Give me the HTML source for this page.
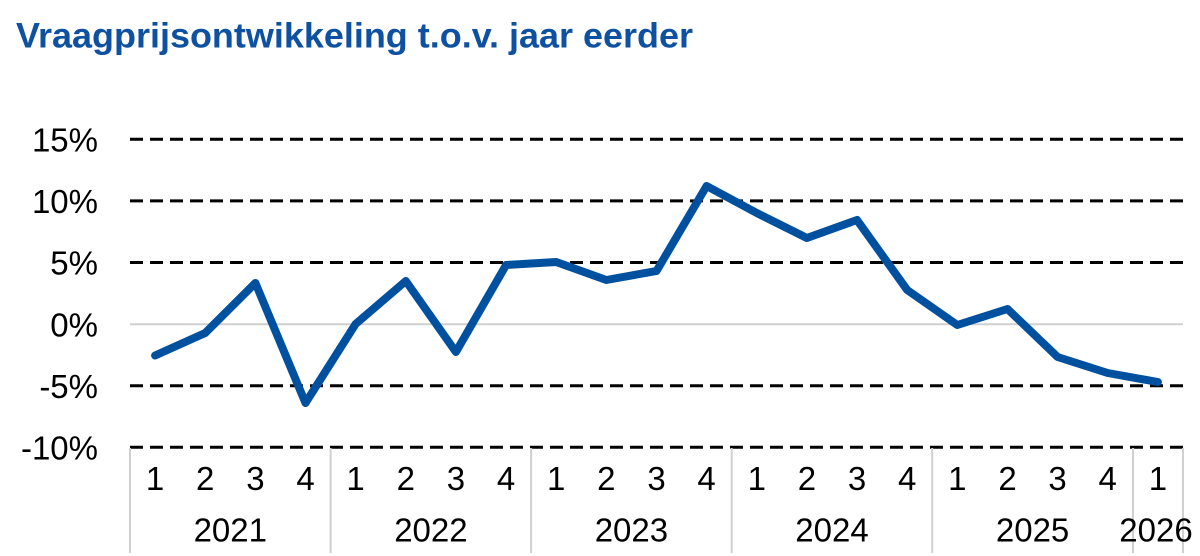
<!DOCTYPE html>
<html>
<head>
<meta charset="utf-8">
<style>
  html, body { margin:0; padding:0; background:#ffffff; }
  body { width:1200px; height:556px; overflow:hidden; }
  svg { display:block; }
  text { font-family: "Liberation Sans", Arial, sans-serif; }
</style>
</head>
<body>
<svg width="1200" height="556" viewBox="0 0 1200 556" xmlns="http://www.w3.org/2000/svg">
  <rect x="0" y="0" width="1200" height="556" fill="#ffffff"/>

  <!-- Title -->
  <text x="16" y="47.3" font-size="35" font-weight="bold" fill="#0f51a1" textLength="677" lengthAdjust="spacingAndGlyphs">Vraagprijsontwikkeling t.o.v. jaar eerder</text>

  <!-- Gridlines (dashed) -->
  <g stroke="#000000" stroke-width="3" stroke-dasharray="13 7" fill="none">
    <line x1="130" y1="139.3" x2="1185" y2="139.3"/>
    <line x1="130" y1="200.9" x2="1185" y2="200.9"/>
    <line x1="130" y1="262.5" x2="1185" y2="262.5"/>
    <line x1="130" y1="385.7" x2="1185" y2="385.7"/>
    <line x1="130" y1="447.3" x2="1185" y2="447.3"/>
  </g>
  <!-- Zero line -->
  <line x1="130" y1="324.3" x2="1183" y2="324.3" stroke="#d0d0d0" stroke-width="2"/>

  <!-- Vertical separators -->
  <g stroke="#d0d0d0" stroke-width="2">
    <line x1="130" y1="448" x2="130" y2="553"/>
    <line x1="330.6" y1="448" x2="330.6" y2="553"/>
    <line x1="531.1" y1="448" x2="531.1" y2="553"/>
    <line x1="731.7" y1="448" x2="731.7" y2="553"/>
    <line x1="932.2" y1="448" x2="932.2" y2="553"/>
    <line x1="1133" y1="448" x2="1133" y2="553"/>
    <line x1="1183" y1="448" x2="1183" y2="553"/>
  </g>

  <!-- Y axis labels -->
  <g font-size="33" fill="#000000" text-anchor="end">
    <text x="98" y="151.5">15%</text>
    <text x="98" y="213">10%</text>
    <text x="98" y="274.5">5%</text>
    <text x="98" y="336.3">0%</text>
    <text x="98" y="397.8">-5%</text>
    <text x="98" y="459.3">-10%</text>
  </g>

  <!-- Quarter labels -->
  <g font-size="33" fill="#000000" text-anchor="middle">
    <text x="155.1" y="490">1</text>
    <text x="205.2" y="490">2</text>
    <text x="255.4" y="490">3</text>
    <text x="305.5" y="490">4</text>
    <text x="355.6" y="490">1</text>
    <text x="405.8" y="490">2</text>
    <text x="455.9" y="490">3</text>
    <text x="506.1" y="490">4</text>
    <text x="556.2" y="490">1</text>
    <text x="606.3" y="490">2</text>
    <text x="656.5" y="490">3</text>
    <text x="706.6" y="490">4</text>
    <text x="756.8" y="490">1</text>
    <text x="806.9" y="490">2</text>
    <text x="857.0" y="490">3</text>
    <text x="907.2" y="490">4</text>
    <text x="957.3" y="490">1</text>
    <text x="1007.5" y="490">2</text>
    <text x="1057.6" y="490">3</text>
    <text x="1107.7" y="490">4</text>
    <text x="1157.9" y="490">1</text>
  </g>

  <!-- Year labels -->
  <g font-size="33" fill="#000000" text-anchor="middle">
    <text x="230.3" y="541.5">2021</text>
    <text x="430.9" y="541.5">2022</text>
    <text x="631.4" y="541.5">2023</text>
    <text x="832" y="541.5">2024</text>
    <text x="1032.6" y="541.5">2025</text>
    <text x="1156" y="541.5">2026</text>
  </g>

  <!-- Data series -->
  <polyline fill="none" stroke="#0050a0" stroke-width="8" stroke-linejoin="round" stroke-linecap="round"
    points="155.1,355.5 205.2,333 255.4,283 305.5,403 355.6,324 405.8,281 455.9,352 506.1,265 556.2,262 606.3,280 656.5,271 706.6,186 756.8,213 806.9,238 857.0,220 907.2,290 957.3,325 1007.5,309 1057.6,357 1107.7,373 1157.9,382"/>
</svg>
</body>
</html>
